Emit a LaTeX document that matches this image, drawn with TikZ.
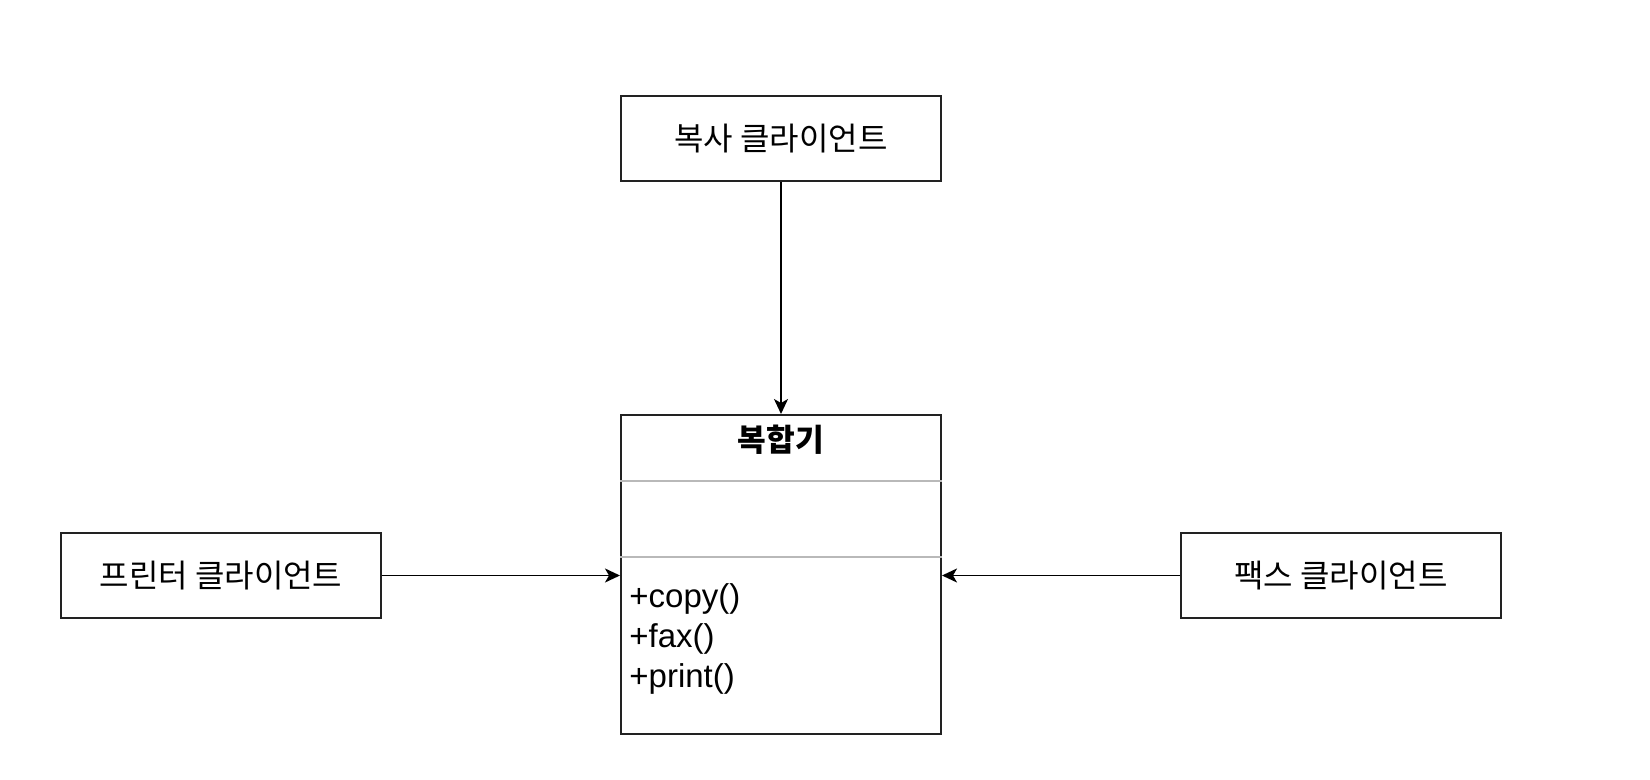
\documentclass[tikz,border=0pt]{standalone}
\usepackage{fontspec}
\setmainfont{Liberation Sans}
\newfontfamily\kr{Noto Sans CJK KR}
\usetikzlibrary{arrows.meta}
\definecolor{sepgray}{RGB}{185,185,185}
\definecolor{edge}{RGB}{34,34,34}
\begin{document}
\begin{tikzpicture}[x=0.5pt,y=-0.5pt,
 box/.style={draw=edge, line width=1pt, minimum width=160pt, minimum height=42.5pt, inner sep=0pt, font=\kr\fontsize{16}{19}\selectfont},
 conn/.style={-{Stealth[length=7.5pt,width=7pt,inset=2pt]}, line width=0.9pt},
 meth/.style={anchor=base west, inner sep=0pt, font=\fontsize{16.5}{19}\selectfont}]
\useasboundingbox (0,0) rectangle (1650,780);
\node[box] (copy) at (781,138.5) {복사 클라이언트};
\node[draw=edge, line width=1pt, minimum width=160pt, minimum height=159.5pt, inner sep=0pt] (cls) at (781,574.5) {};
\node[box] (printer) at (221,575.5) {프린터 클라이언트};
\node[box] (fax) at (1341,575.5) {팩스 클라이언트};
\node[inner sep=0pt, font=\kr\bfseries\fontsize{15.6}{18}\selectfont] (title) at (781,440) {복합기};
\coordinate (s1) at (0,481);
\coordinate (s2) at (0,557);
\draw[sepgray, line width=1pt] (cls.west |- s1) -- (cls.east |- s1);
\draw[sepgray, line width=1pt] (cls.west |- s2) -- (cls.east |- s2);
\node[meth] (m1) at (629,608) {+copy()};
\node[meth] (m2) at (629,647.5) {+fax()};
\node[meth] (m3) at (629,687) {+print()};
\draw[conn] (copy) -- (cls);
\draw[conn] (printer.east) -- (printer.east -| cls.west);
\draw[conn] (fax.west) -- (fax.west -| cls.east);
\end{tikzpicture}
\end{document}
